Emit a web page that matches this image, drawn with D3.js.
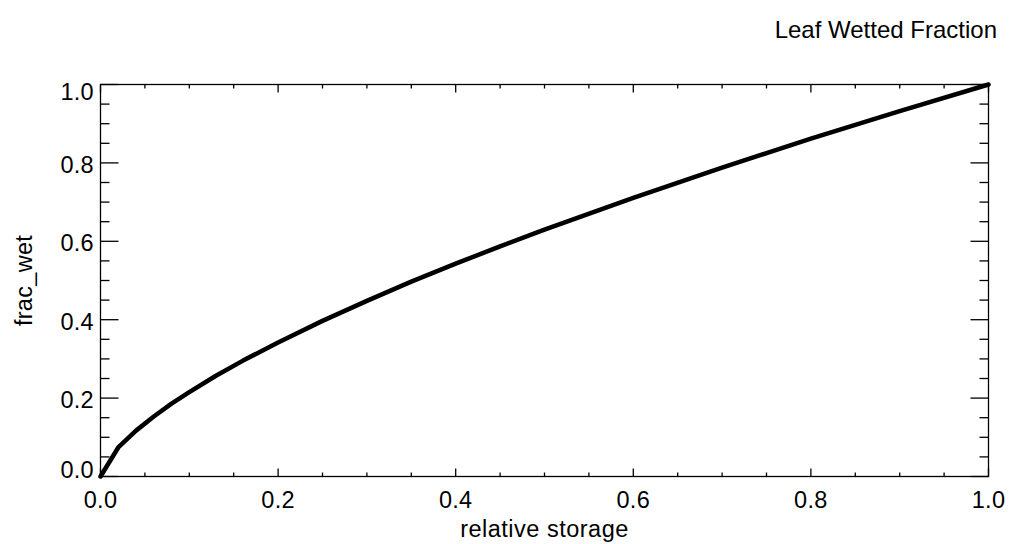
<!DOCTYPE html>
<html>
<head>
<meta charset="utf-8">
<script src="https://cdn.jsdelivr.net/npm/d3@7"></script>
<style>
  html, body { margin: 0; padding: 0; background: #fff; }
  svg { display: block; }
  text { font-family: "Liberation Sans", Arial, Helvetica, sans-serif; fill: #000; }
</style>
</head>
<body>
<svg id="chart" width="1010" height="544"></svg>
<script>
// Leaf wetted fraction as a function of relative canopy storage
const storage = [0, 0.02, 0.04, 0.06, 0.08, 0.10, 0.13, 0.16, 0.20, 0.25, 0.30, 0.35,
                 0.40, 0.45, 0.50, 0.60, 0.70, 0.80, 0.90, 1.00];
const fracWet = [0, 0.074, 0.117, 0.153, 0.186, 0.215, 0.257, 0.295, 0.342, 0.397, 0.448, 0.497,
                 0.543, 0.587, 0.630, 0.711, 0.788, 0.862, 0.932, 1.000];
const xTicks = [0, 0.2, 0.4, 0.6, 0.8, 1.0];
const yTicks = [0, 0.2, 0.4, 0.6, 0.8, 1.0];
const minorTicks = d3.range(0, 1.0001, 0.05).map(v => +v.toFixed(2));
const titleText = "Leaf Wetted Fraction";
const xTitle = "relative storage";
const yTitle = "frac_wet";

const svg = d3.select("#chart");
const plotLeft = 100.5, plotRight = 988.5, plotTop = 84.5, plotBottom = 476.5;

const x = d3.scaleLinear().domain([0, 1]).range([plotLeft, plotRight]);
const y = d3.scaleLinear().domain([0, 1]).range([plotBottom, plotTop]);

const xMajorLen = 8, xMinorLen = 4, yMajorLen = 18, yMinorLen = 9;
const fmt = d3.format(".1f");
const fontSize = 23.5, spacing = "0.3px";

// frame
svg.append("rect")
  .attr("x", plotLeft).attr("y", plotTop)
  .attr("width", plotRight - plotLeft).attr("height", plotBottom - plotTop)
  .attr("fill", "none").attr("stroke", "#000").attr("stroke-width", 1.3);

const isMajor = v => xTicks.some(t => Math.abs(t - v) < 1e-9);

// inward ticks on all four sides
const tg = svg.append("g").attr("stroke", "#000").attr("stroke-width", 1.3);
minorTicks.forEach(v => {
  const lx = isMajor(v) ? xMajorLen : xMinorLen;
  const ly = isMajor(v) ? yMajorLen : yMinorLen;
  tg.append("line").attr("x1", x(v)).attr("x2", x(v)).attr("y1", plotBottom).attr("y2", plotBottom - lx);
  tg.append("line").attr("x1", x(v)).attr("x2", x(v)).attr("y1", plotTop).attr("y2", plotTop + lx);
  tg.append("line").attr("y1", y(v)).attr("y2", y(v)).attr("x1", plotLeft).attr("x2", plotLeft + ly);
  tg.append("line").attr("y1", y(v)).attr("y2", y(v)).attr("x1", plotRight).attr("x2", plotRight - ly);
});

// x tick labels
svg.append("g").selectAll("text").data(xTicks).join("text")
  .attr("x", d => x(d))
  .attr("y", 508)
  .attr("text-anchor", "middle")
  .attr("font-size", fontSize)
  .attr("letter-spacing", spacing)
  .text(d => fmt(d));

// y tick labels (end labels kept inside the frame height)
svg.append("g").selectAll("text").data(yTicks).join("text")
  .attr("x", 94)
  .attr("y", d => {
    let c = y(d) + 1.5;
    if (d === 0) c = y(d) - 7;
    if (d === 1) c = y(d) + 7;
    return c;
  })
  .attr("dy", "0.36em")
  .attr("text-anchor", "end")
  .attr("font-size", fontSize)
  .attr("letter-spacing", spacing)
  .text(d => fmt(d));

// axis titles
svg.append("text")
  .attr("x", (plotLeft + plotRight) / 2)
  .attr("y", 537)
  .attr("text-anchor", "middle")
  .attr("font-size", fontSize)
  .attr("letter-spacing", "0.5px")
  .text(xTitle);

svg.append("text")
  .attr("transform", `translate(32,${(plotTop + plotBottom) / 2}) rotate(-90)`)
  .attr("text-anchor", "middle")
  .attr("font-size", fontSize)
  .attr("letter-spacing", spacing)
  .text(yTitle);

// title
svg.append("text")
  .attr("x", 997)
  .attr("y", 38)
  .attr("text-anchor", "end")
  .attr("font-size", 24)
  .text(titleText);

// curve
const line = d3.line()
  .x((d, i) => x(storage[i]))
  .y(d => y(d));

svg.append("path")
  .datum(fracWet)
  .attr("d", line)
  .attr("fill", "none")
  .attr("stroke", "#000")
  .attr("stroke-width", 4.5)
  .attr("stroke-linejoin", "round")
  .attr("stroke-linecap", "round");
</script>
</body>
</html>
